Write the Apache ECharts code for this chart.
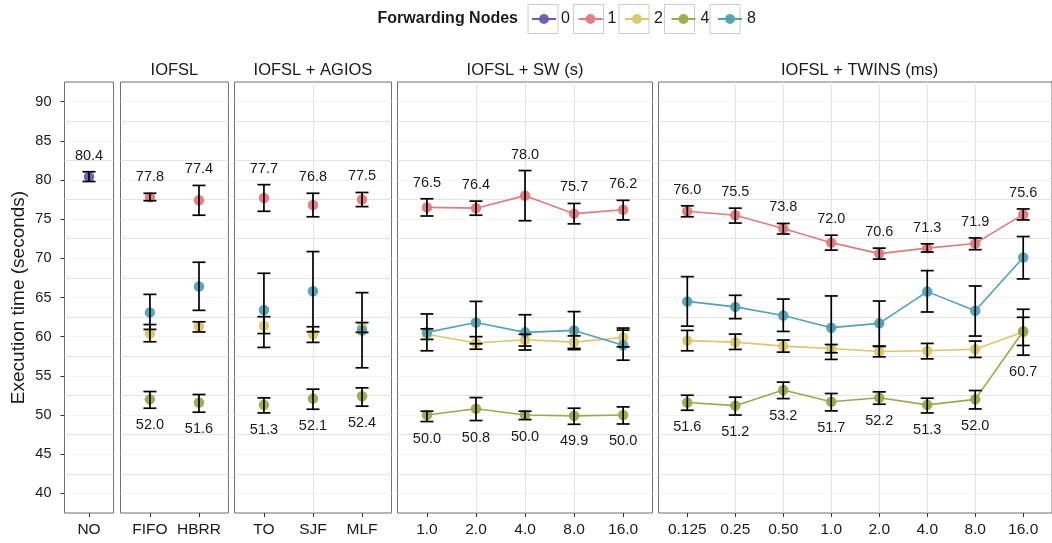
<!DOCTYPE html>
<html><head><meta charset="utf-8">
<script src="https://cdn.jsdelivr.net/npm/echarts@6/dist/echarts.min.js"></script>
<style>html,body{margin:0;padding:0;background:#fff}#c{width:1052px;height:543px}</style>
</head><body><div id="c"></div><script>
// ---------------- DATA ----------------
const panelTitles = ['', 'IOFSL', 'IOFSL + AGIOS', 'IOFSL + SW (s)', 'IOFSL + TWINS (ms)'];
const panelCats = [
  ['NO'],
  ['FIFO', 'HBRR'],
  ['TO', 'SJF', 'MLF'],
  ['1.0', '2.0', '4.0', '8.0', '16.0'],
  ['0.125', '0.25', '0.50', '1.0', '2.0', '4.0', '8.0', '16.0']
];
const nodeNames = ['0', '1', '2', '4', '8'];
const yTicks = [40, 45, 50, 55, 60, 65, 70, 75, 80, 85, 90];

// values laid out over all 19 categories, panel after panel (null = absent)
const mean0 = [80.4, null, null, null, null, null, null, null, null, null, null, null, null, null, null, null, null, null, null];
const lo0   = [79.8, null, null, null, null, null, null, null, null, null, null, null, null, null, null, null, null, null, null];
const hi0   = [81.05, null, null, null, null, null, null, null, null, null, null, null, null, null, null, null, null, null, null];

const mean1 = [null, 77.8, 77.4, 77.7, 76.8, 77.5, 76.5, 76.4, 78.0, 75.7, 76.2, 76.0, 75.5, 73.8, 72.0, 70.6, 71.3, 71.9, 75.6];
const lo1   = [null, 77.35, 75.5, 76.0, 75.3, 76.6, 75.4, 75.5, 74.8, 74.4, 74.9, 75.3, 74.5, 73.1, 71.05, 69.9, 70.8, 71.1, 74.9];
const hi1   = [null, 78.3, 79.3, 79.4, 78.3, 78.4, 77.6, 77.3, 81.2, 77.0, 77.4, 76.7, 76.4, 74.45, 72.95, 71.3, 71.85, 72.6, 76.3];

const mean2 = [null, 60.4, 61.3, 61.4, 60.3, 61.2, 60.3, 59.2, 59.6, 59.3, 59.9, 59.5, 59.3, 58.8, 58.5, 58.1, 58.2, 58.4, 60.6];
const lo2   = [null, 59.35, 60.6, 60.4, 59.27, 60.55, 59.65, 58.4, 58.8, 58.5, 58.7, 58.2, 58.37, 58.03, 57.95, 57.43, 57.17, 57.35, 57.65];
const hi2   = [null, 61.55, 61.9, 62.55, 61.27, 61.8, 61.0, 60.0, 60.3, 60.1, 61.1, 60.8, 60.33, 59.57, 59.0, 58.75, 59.14, 59.44, 63.5];

const mean4 = [null, 52.0, 51.6, 51.3, 52.1, 52.4, 50.0, 50.8, 50.0, 49.9, 50.0, 51.6, 51.2, 53.2, 51.7, 52.2, 51.3, 52.0, 60.7];
const lo4   = [null, 50.87, 50.36, 50.27, 50.74, 51.13, 49.17, 49.3, 49.42, 48.82, 48.86, 50.61, 50.0, 52.1, 50.53, 51.38, 50.27, 50.78, 58.88];
const hi4   = [null, 53.0, 52.62, 52.19, 53.3, 53.47, 50.49, 52.23, 50.49, 50.87, 51.04, 52.53, 52.28, 54.2, 52.75, 52.96, 52.15, 53.13, 62.47];

const mean8 = [null, 63.1, 66.4, 63.4, 65.8, 60.8, 60.55, 61.8, 60.55, 60.8, 58.9, 64.5, 63.8, 62.7, 61.15, 61.7, 65.75, 63.3, 70.1];
const lo8   = [null, 60.93, 63.36, 58.63, 60.63, 56.03, 58.2, 59.1, 58.3, 58.35, 57.0, 61.35, 62.3, 60.67, 57.1, 58.8, 63.15, 60.08, 67.37];
const hi8   = [null, 65.4, 69.5, 68.09, 70.86, 65.62, 62.9, 64.5, 62.8, 63.2, 60.84, 67.66, 65.28, 64.8, 65.2, 64.55, 68.43, 66.47, 72.78];

// ---------------- STYLE / LAYOUT ----------------
const nodeColors = {'0': '#6a5aad', '1': '#e07a7f', '2': '#d9c76e', '4': '#9aa84f', '8': '#55a0b4'};
const nodeSeries = {
  '0': {mean: mean0, lo: lo0, hi: hi0},
  '1': {mean: mean1, lo: lo1, hi: hi1},
  '2': {mean: mean2, lo: lo2, hi: hi2},
  '4': {mean: mean4, lo: lo4, hi: hi4},
  '8': {mean: mean8, lo: lo8, hi: hi8}
};
const FONT = 'Liberation Sans, Arial, sans-serif';
const TXT = '#1a1a1a';
const unit = 49.05;           // px per category step
const gTop = 82, gHeight = 431;
const panelLeft = [64.5, 120.5, 234.5, 397.5, 658.5];
const panelPad = [0.5, 0.6, 0.6, 0.6, 0.6];
const connect = [false, false, false, true, true];

const grids = [], xAxes = [], yAxes = [], series = [], graphics = [];
let offset = 0;
const panelOffsets = [];
panelCats.forEach((cats, p) => { panelOffsets.push(offset); offset += cats.length; });

panelCats.forEach((cats, p) => {
  const n = cats.length;
  const w = (n - 1 + 2 * panelPad[p]) * unit;
  grids.push({left: panelLeft[p], top: gTop, width: w, height: gHeight, show: true,
    borderColor: '#6f6f6f', borderWidth: 1, backgroundColor: '#fff', containLabel: false});
  const idx = cats.map((c, i) => i);
  xAxes.push({type: 'value', gridIndex: p, min: -panelPad[p], max: n - 1 + panelPad[p],
    axisLine: {show: false},
    axisTick: {show: true, customValues: idx, length: 4, lineStyle: {color: '#333', width: 1}},
    axisLabel: {show: true, customValues: idx, formatter: v => cats[Math.round(v)] || '',
      margin: 9, fontSize: 15.5, color: TXT, fontFamily: FONT},
    splitLine: {show: true, showMinLine: false, showMaxLine: false, lineStyle: {color: '#e3e3e3', width: 1}}
  });
  yAxes.push({type: 'value', gridIndex: p, min: 37.5, max: 92.5, interval: 2.5,
    axisLine: {show: false}, axisTick: {show: false}, axisLabel: {show: false},
    splitLine: {show: true, showMinLine: false, showMaxLine: false,
      lineStyle: {color: ['#f4f4f4', '#e3e3e3'], width: 1}}
  });
  // strip title
  if (panelTitles[p]) {
    graphics.push({type: 'text', x: panelLeft[p] + w / 2, y: 70, z: 10,
      style: {text: panelTitles[p], textAlign: 'center', textVerticalAlign: 'middle',
        font: '16.5px ' + FONT, fill: TXT}});
  }
});
// label axis for the left side
yAxes.push({type: 'value', gridIndex: 0, position: 'left', min: 37.5, max: 92.5,
  name: 'Execution time (seconds)', nameLocation: 'middle', nameGap: 36,
  nameTextStyle: {fontSize: 19, color: TXT, fontFamily: FONT},
  axisLine: {show: false},
  axisTick: {show: true, customValues: yTicks, length: 4, lineStyle: {color: '#333'}},
  axisLabel: {show: true, customValues: yTicks, margin: 13, fontSize: 14.5, color: TXT, fontFamily: FONT},
  splitLine: {show: false}
});

// point/line series: panels with connecting lines first (legend picks first series per name)
const order = [3, 4, 0, 1, 2];
order.forEach(p => {
  const n = panelCats[p].length, off = panelOffsets[p];
  nodeNames.forEach(nm => {
    const s = nodeSeries[nm];
    const data = [];
    for (let i = 0; i < n; i++) if (s.mean[off + i] != null) data.push([i, s.mean[off + i]]);
    if (!data.length) return;
    const asLine = connect[p] || nm === '0';
    series.push({
      name: nm, type: asLine ? 'line' : 'scatter', xAxisIndex: p, yAxisIndex: p,
      data, symbol: 'circle', symbolSize: 10.5, showSymbol: true, z: 2,
      itemStyle: {color: nodeColors[nm], opacity: 0.95},
      lineStyle: {color: nodeColors[nm], width: 1.6},
      emphasis: {disabled: true}, animation: false
    });
  });
});

// error bars and value labels per panel
panelCats.forEach((cats, p) => {
  const n = cats.length, off = panelOffsets[p];
  const eb = [], labels = [];
  for (let i = 0; i < n; i++) {
    let maxHi = -Infinity, minLo = Infinity;
    nodeNames.forEach(nm => {
      const s = nodeSeries[nm];
      if (s.mean[off + i] == null) return;
      eb.push([i, s.lo[off + i], s.hi[off + i]]);
      maxHi = Math.max(maxHi, s.hi[off + i]);
      minLo = Math.min(minLo, s.lo[off + i]);
    });
    const topVal = mean1[off + i] != null ? mean1[off + i] : mean0[off + i];
    if (topVal != null) labels.push([i, maxHi, topVal, -1]);
    if (mean4[off + i] != null) labels.push([i, minLo, mean4[off + i], 1]);
  }
  series.push({
    type: 'custom', xAxisIndex: p, yAxisIndex: p, z: 3, animation: false, silent: true,
    data: eb, encode: {x: 0, y: [1, 2]},
    renderItem: (params, api) => {
      const x = api.value(0);
      const a = api.coord([x, api.value(1)]), b = api.coord([x, api.value(2)]);
      const hw = 6.5, st = {stroke: '#000', lineWidth: 1.7};
      return {type: 'group', children: [
        {type: 'line', shape: {x1: a[0], y1: a[1], x2: b[0], y2: b[1]}, style: st},
        {type: 'line', shape: {x1: a[0] - hw, y1: a[1], x2: a[0] + hw, y2: a[1]}, style: st},
        {type: 'line', shape: {x1: b[0] - hw, y1: b[1], x2: b[0] + hw, y2: b[1]}, style: st}
      ]};
    }
  });
  series.push({
    type: 'custom', xAxisIndex: p, yAxisIndex: p, z: 4, animation: false, silent: true,
    data: labels, encode: {x: 0, y: 1},
    renderItem: (params, api) => {
      const c = api.coord([api.value(0), api.value(1)]);
      const dir = api.value(3);
      return {type: 'text', x: c[0], y: c[1] + (dir < 0 ? -16 : 17),
        style: {text: api.value(2).toFixed(1), textAlign: 'center', textVerticalAlign: 'middle',
          font: '14.5px ' + FONT, fill: TXT}};
    }
  });
});

// legend decoration
const legLeft = 531, legPeriod = 45.5;
graphics.push({type: 'text', x: 518, y: 19, style: {text: 'Forwarding Nodes', textAlign: 'right',
  textVerticalAlign: 'middle', font: 'bold 16px ' + FONT, fill: TXT}});
nodeNames.forEach((nm, k) => {
  graphics.push({type: 'rect', shape: {x: legLeft - 3 + k * legPeriod, y: 4.5, width: 30, height: 29},
    style: {fill: 'none', stroke: '#cccccc', lineWidth: 1}, z: 0});
});

const chart = echarts.init(document.getElementById('c'), null, {renderer: 'canvas'});
chart.setOption({
  animation: false,
  backgroundColor: '#fff',
  textStyle: {fontFamily: FONT},
  grid: grids, xAxis: xAxes, yAxis: yAxes,
  legend: {data: nodeNames, left: legLeft, top: 11, padding: 0, itemWidth: 24, itemHeight: 12.5,
    itemGap: 7.6, selectedMode: false, textStyle: {fontSize: 16, color: TXT, fontFamily: FONT}},
  graphic: graphics,
  series
});
</script></body></html>
